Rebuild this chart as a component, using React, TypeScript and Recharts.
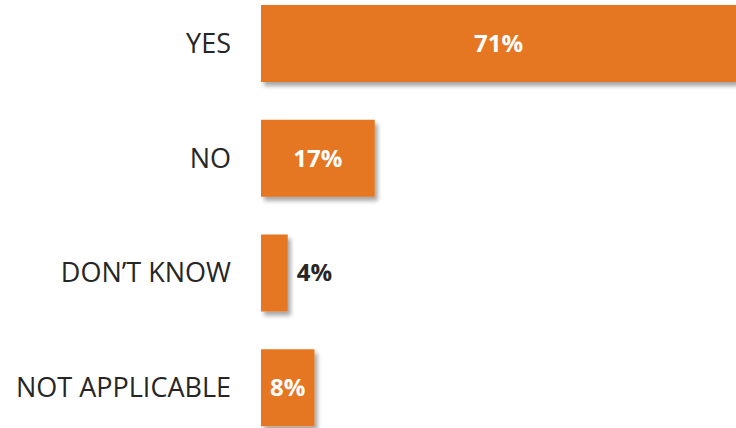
import { Bar, BarChart, LabelList, XAxis, YAxis } from 'recharts'

const categories = ['YES', 'NO', 'DON\u2019T KNOW', 'NOT APPLICABLE']
const shares = [71, 17, 4, 8]

const data = categories.map((name, i) => ({ name, value: shares[i] }))

const ORANGE = '#e67722'
const TEXT = '#262626'
const FONT = '"Open Sans", sans-serif'

function CategoryTick(props: any) {
  const { x, y, payload } = props
  return (
    <text
      x={x - 22}
      y={y}
      dy="0.35em"
      textAnchor="end"
      fill={TEXT}
      fontFamily={FONT}
      fontSize={27}
    >
      {payload.value}
    </text>
  )
}

// small bars get their label outside, on the right, in dark text
function ValueLabel(props: any) {
  const { x, y, width, height, value } = props
  const inside = width > 40
  return (
    <text
      x={inside ? x + width / 2 : x + width + 9}
      y={y + height / 2}
      dy="0.35em"
      textAnchor={inside ? 'middle' : 'start'}
      fill={inside ? '#ffffff' : TEXT}
      fontFamily={FONT}
      fontWeight={700}
      fontSize={24}
    >
      {value}%
    </text>
  )
}

export default function App() {
  return (
    <div
      style={{
        position: 'absolute',
        left: 0,
        top: 0,
        width: 736,
        height: 428,
        overflow: 'hidden',
        background: '#fff',
      }}
    >
      <div style={{ position: 'absolute', left: 0, top: -14 }}>
        <BarChart
          width={736}
          height={459}
          data={data}
          layout="vertical"
          margin={{ top: 0, right: 0, bottom: 0, left: 0 }}
          barCategoryGap={19}
        >
          <defs>
            <filter id="barShadow" x="-10%" y="-10%" width="130%" height="140%">
              <feDropShadow dx="3" dy="4" stdDeviation="2" floodColor="#000" floodOpacity="0.35" />
            </filter>
          </defs>
          <XAxis type="number" domain={[0, 71]} hide />
          <YAxis
            type="category"
            dataKey="name"
            width={261}
            axisLine={false}
            tickLine={false}
            tick={<CategoryTick />}
            interval={0}
          />
          <Bar
            dataKey="value"
            fill={ORANGE}
            isAnimationActive={false}
            style={{ filter: 'url(#barShadow)' }}
          >
            <LabelList dataKey="value" content={<ValueLabel />} />
          </Bar>
        </BarChart>
      </div>
    </div>
  )
}
